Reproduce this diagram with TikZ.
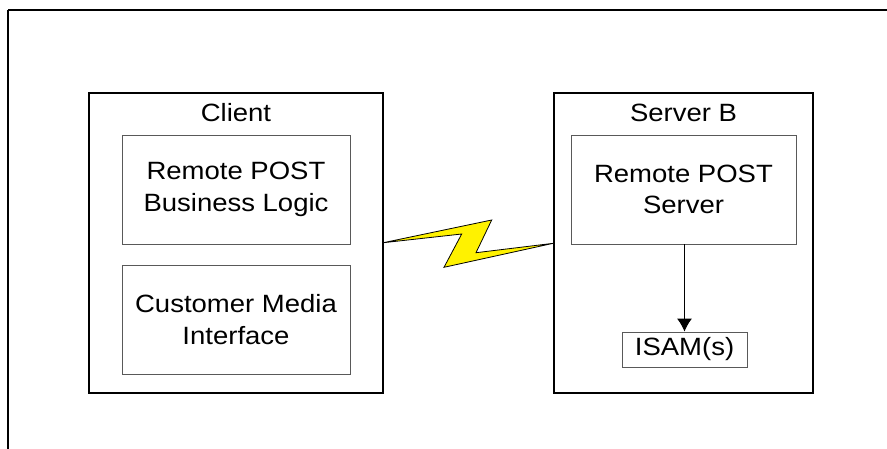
\documentclass[tikz,border=0pt]{standalone}
\usepackage{fontspec}
\setmainfont{Liberation Sans}[FakeStretch=1.1]
\begin{document}
\begin{tikzpicture}[x=1pt,y=-1pt,
  outerbox/.style={draw=black,line width=2.6pt},
  innerbox/.style={draw=black!65,line width=0.9pt,align=center,inner sep=0pt,
    font=\fontsize{25}{31.7}\selectfont},
  title/.style={font=\fontsize{25}{30}\selectfont,inner sep=0pt},
  arr/.style={line width=0.9pt,-{Latex[length=13pt,width=15pt]}}]
\useasboundingbox (0,0) rectangle (887,448);
\clip (0,0) rectangle (887,448);
\usetikzlibrary{arrows.meta}
% outer frame (continues past right and bottom edges)
\draw[line width=1.8pt] (8,10) -- (8,470) (8,10) -- (900,10);
% Client
\draw[outerbox] (89,93) rectangle (383,393);
\node[title] (clientT) at (236,113) {Client};
\node[innerbox,minimum width=228pt,minimum height=109pt] (bl) at (236,189.5) {Remote POST\\Business Logic};
\node[innerbox,minimum width=228pt,minimum height=109pt] (cmi) at (236,319.5) {Customer Media\\Interface};
% Server B
\draw[outerbox] (554,93) rectangle (813,393);
\node[title] (serverT) at (683.5,113) {Server B};
\node[innerbox,minimum width=225pt,minimum height=109pt] (rps) at (683.5,189.5) {Remote POST\\Server};
\node[innerbox,minimum width=125pt,minimum height=35pt] (isam) at (684.5,349.5) {ISAM(s)};
\draw[arr] (rps.south -| isam.north) -- (isam.north);
% lightning
\coordinate (p1) at (383.3,242.7);
\coordinate (p4) at (553.3,243.3);
\filldraw[fill=yellow,draw=black,line width=0.8pt,line join=miter]
  (p1) -- (491.7,220) -- (476,252.7) -- (p4) -- (444,267.3) -- (461.7,234) -- cycle;
\end{tikzpicture}
\end{document}
